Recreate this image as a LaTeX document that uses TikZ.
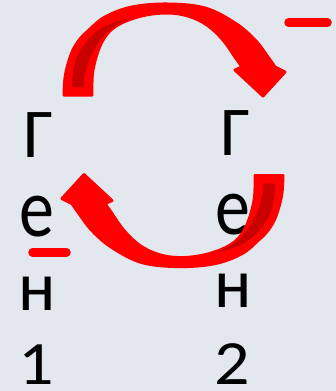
\documentclass[tikz,border=0pt]{standalone}
\usepackage{fontspec}
\usepackage{graphicx}
\setmainfont{Carlito}
\definecolor{bg}{RGB}{227,231,238}
\definecolor{arrred}{RGB}{255,0,0}
\definecolor{arrdark}{RGB}{200,0,0}
\newcommand\myCurvedArrow{%
  \fill[arrred, draw=arrred, line width=3pt, line join=round]
    (64,95) -- plot[smooth, tension=0.6] coordinates {(64,95) (65,78) (68,64) (73,50) (80,39) (88,31) (105,17) (132,7) (168,4) (205,8) (235,23) (255,40) (268,57) (275,67)}
    -- (285,72) -- (263,96) -- (235,70) --
    plot[smooth, tension=0.6] coordinates {(242,67) (235,57) (223,40) (207,25) (188,16) (168,13) (146,15) (126,21) (112,29) (103,40) (97,54) (93,70) (92,82) (92,95)}
    -- cycle;
  \fill[arrdark]
    plot[smooth, tension=0.6] coordinates {(72,87) (73,72) (77,57) (84,45) (95,33) (110,24) (131,18)}
    -- plot[smooth, tension=0.6] coordinates {(131,18) (115,26) (104,35) (96,46) (90,58) (86,70) (84,80) (84,87)}
    -- cycle;
}
\tikzset{
  glyph/.style={inner sep=0pt, anchor=base, font=\fontsize{70}{80}\selectfont},
  minus/.style={draw=arrred, line width=8.5pt, line cap=round}
}
\begin{document}
\begin{tikzpicture}[x=1pt, y=-1pt]
  \fill[bg] (0,0) rectangle (336,391);
  \useasboundingbox (0,0) rectangle (336,391);
  % left column
  \node[glyph] (gA) at (38.5,157) {Г};
  \node[glyph] (eA) at (37,236) {\scalebox{1}[1.19]{е}};
  \node[glyph] (nA) at (37,310) {н};
  \node[glyph] (oneA) at (36.5,384.5) {\scalebox{1}[0.88]{1}};
  % right column
  \node[glyph] (gB) at (235.5,155) {Г};
  \node[glyph] (eB) at (233,234) {\scalebox{1}[1.19]{е}};
  \node[glyph] (nB) at (233,307) {н};
  \node[glyph] (twoB) at (232.5,384.5) {\scalebox{1}[0.9]{2}};
  % arrows
  \myCurvedArrow
  \begin{scope}[rotate around={180:(173.5,135.3)}]
    \myCurvedArrow
  \end{scope}
  % minus signs
  \coordinate (m1a) at (288.5,22.5);
  \coordinate (m1b) at (327.5,22.5);
  \draw[minus] (m1a) -- (m1b);
  \coordinate (m2a) at (32.5,252.5);
  \coordinate (m2b) at (66.5,252.5);
  \draw[minus] (m2a) -- (m2b);
\end{tikzpicture}
\end{document}
